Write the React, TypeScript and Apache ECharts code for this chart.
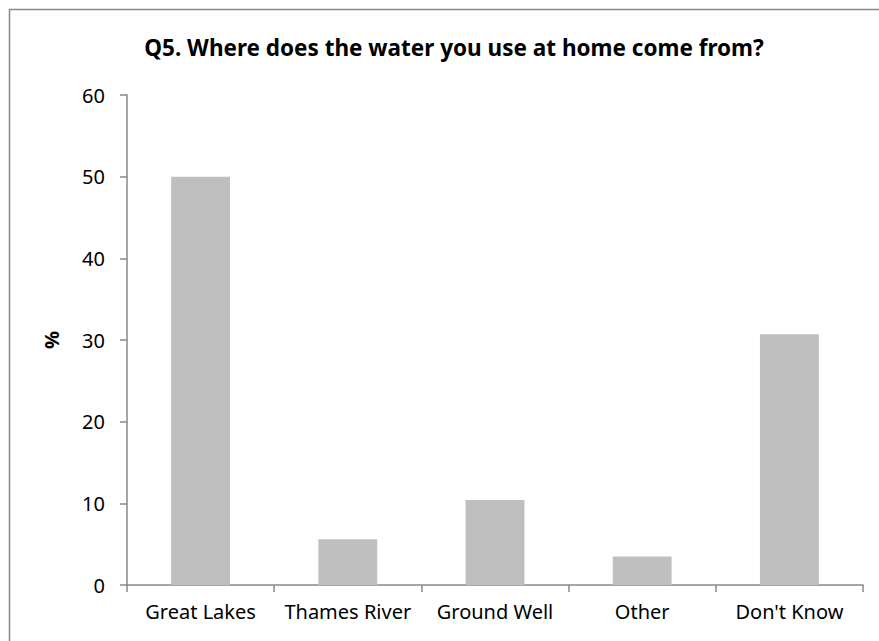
import React, { useEffect, useRef } from "react";
import * as echarts from "echarts";

const categories = ["Great Lakes", "Thames River", "Ground Well", "Other", "Don't Know"];
const values = [50.0, 5.6, 10.4, 3.5, 30.7];
const yTicks = [0, 10, 20, 30, 40, 50, 60];
const titleText = "Q5. Where does the water you use at home come from?";
const yAxisName = "%";

export default function App() {
  const ref = useRef<HTMLDivElement>(null);
  useEffect(() => {
    if (!ref.current) return;
    const chart = echarts.init(ref.current, null, { renderer: "svg" });
    const axisColor = "#898989";
    const font = "Noto Sans";
    chart.setOption({
      animation: false,
      backgroundColor: "#ffffff",
      title: {
        text: titleText,
        left: 449,
        textAlign: "center",
        top: 31,
        textStyle: { fontFamily: font, fontWeight: "bold", fontSize: 22.5, color: "#000000" },
      },
      graphic: [
        {
          type: "rect",
          shape: { x: 9.5, y: 9.5, width: 900, height: 700 },
          style: { fill: "none", stroke: axisColor, lineWidth: 1.5 },
          silent: true,
        },
      ],
      grid: { left: 127, right: 16, top: 95, bottom: 56, containLabel: false },
      xAxis: {
        type: "category",
        data: categories,
        boundaryGap: true,
        axisLine: { show: true, lineStyle: { color: axisColor, width: 1.5 } },
        axisTick: { show: true, length: 7, inside: false, lineStyle: { color: axisColor, width: 1.5 } },
        axisLabel: { color: "#000000", fontFamily: font, fontSize: 20, margin: 16, interval: 0 },
        splitLine: { show: false },
      },
      yAxis: {
        type: "value",
        min: yTicks[0],
        max: yTicks[yTicks.length - 1],
        interval: 10,
        name: yAxisName,
        nameLocation: "middle",
        nameGap: 66,
        nameRotate: 90,
        nameTextStyle: { color: "#000000", fontFamily: font, fontWeight: "bold", fontSize: 20 },
        axisLine: { show: true, lineStyle: { color: axisColor, width: 1.5 } },
        axisTick: { show: true, length: 7, inside: false, lineStyle: { color: axisColor, width: 1.5 } },
        axisLabel: { color: "#000000", fontFamily: font, fontSize: 20, margin: 22 },
        splitLine: { show: false },
      },
      series: [
        {
          type: "bar",
          data: values,
          barWidth: "40%",
          itemStyle: { color: "#BFBFBF" },
        },
      ],
    });
    return () => chart.dispose();
  }, []);
  return (
    <div
      ref={ref}
      style={{ position: "fixed", left: 0, top: 0, width: 879, height: 641, background: "#fff" }}
    />
  );
}
